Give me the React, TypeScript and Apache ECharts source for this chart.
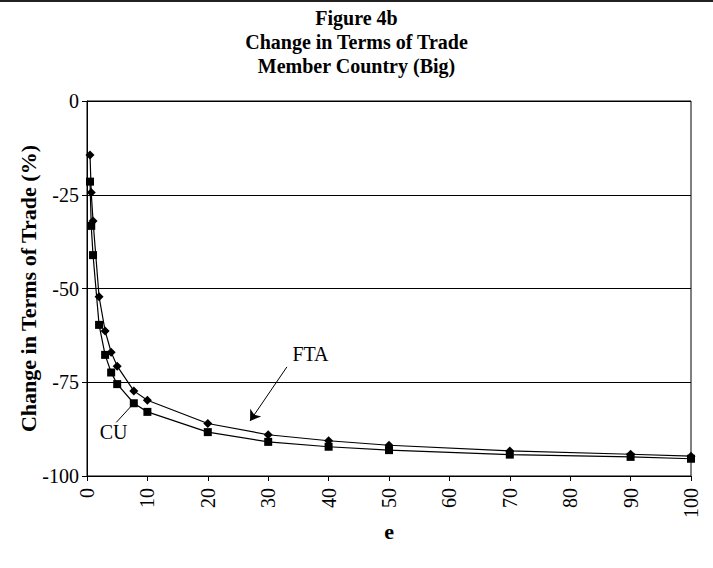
import React, { useEffect, useRef } from "react";
import * as echarts from "echarts";

const eValues = [0.5, 0.7, 1, 2, 3, 4, 5, 7.75, 10, 20, 30, 40, 50, 70, 90, 100];
const ftaValues = [-14.4, -24.4, -32, -52.2, -61.3, -67, -70.7, -77.3, -79.8, -86, -89, -90.6, -91.8, -93.3, -94.2, -94.7];
const cuValues = [-21.5, -33.3, -41.1, -59.7, -67.7, -72.4, -75.5, -80.6, -82.9, -88.3, -90.9, -92.2, -93.1, -94.3, -94.9, -95.4];
const titleLines = ["Figure 4b", "Change in Terms of Trade", "Member Country (Big)"];
const yTicks = { min: -100, max: 0, interval: 25 };
const xTicks = { min: 0, max: 100, interval: 10 };

const FONT = "'Liberation Serif', 'Times New Roman', serif";

export default function App() {
  const ref = useRef<HTMLDivElement>(null);
  useEffect(() => {
    if (!ref.current) return;
    const chart = echarts.init(ref.current, null, { renderer: "svg" });
    const fta = eValues.map((e, i) => [e, ftaValues[i]]);
    const cu = eValues.map((e, i) => [e, cuValues[i]]);
    chart.setOption({
      animation: false,
      backgroundColor: "#fff",
      title: {
        text: titleLines.join("\n"),
        left: "center",
        top: 1,
        textStyle: {
          fontFamily: FONT,
          fontWeight: "bold",
          fontSize: 20,
          lineHeight: 24,
          color: "#000",
        },
      },
      graphic: [
        { type: "rect", left: 0, top: 0, shape: { width: 713, height: 2 }, style: { fill: "#222" } },
      ],
      grid: {
        left: 87,
        right: 22,
        top: 101,
        bottom: 92,
        show: true,
        borderColor: "#000",
        borderWidth: 1,
        backgroundColor: "#fff",
      },
      xAxis: {
        type: "value",
        min: xTicks.min,
        max: xTicks.max,
        interval: xTicks.interval,
        name: "e",
        nameLocation: "middle",
        nameGap: 44,
        nameMoveOverlap: false,
        nameTextStyle: { fontFamily: FONT, fontWeight: "bold", fontSize: 22, color: "#000" },
        axisLine: { show: true, onZero: false, lineStyle: { color: "#000", width: 1 } },
        axisTick: { show: true, length: 5, lineStyle: { color: "#000" } },
        axisLabel: { rotate: 90, fontFamily: FONT, fontSize: 20, color: "#000", margin: 12 },
        splitLine: { show: false },
      },
      yAxis: {
        type: "value",
        min: yTicks.min,
        max: yTicks.max,
        interval: yTicks.interval,
        name: "Change in Terms of Trade (%)",
        nameLocation: "middle",
        nameGap: 48,
        nameMoveOverlap: false,
        nameTextStyle: { fontFamily: FONT, fontWeight: "bold", fontSize: 22, color: "#000" },
        axisLine: { show: true, lineStyle: { color: "#000", width: 1 } },
        axisTick: { show: true, length: 5, lineStyle: { color: "#000" } },
        axisLabel: { fontFamily: FONT, fontSize: 20, color: "#000", margin: 8 },
        splitLine: { show: true, lineStyle: { color: "#000", width: 1 } },
      },
      series: [
        {
          name: "FTA",
          type: "line",
          data: fta,
          symbol: "diamond",
          symbolSize: 9,
          showAllSymbol: true,
          lineStyle: { color: "#000", width: 1.2 },
          itemStyle: { color: "#000" },
          markLine: {
            silent: true,
            symbol: ["none", "arrow"],
            symbolSize: 10,
            lineStyle: { color: "#000", width: 1, type: "solid" },
            label: { show: false },
            data: [[{ coord: [33.1, -70.9] }, { coord: [27, -85.3] }]],
          },
          markPoint: {
            silent: true,
            symbol: "circle",
            symbolSize: 1,
            itemStyle: { color: "transparent" },
            label: { show: true, formatter: "FTA", fontFamily: FONT, fontSize: 20, color: "#000", position: "inside" },
            data: [{ coord: [37, -67.5] }],
          },
        },
        {
          name: "CU",
          type: "line",
          data: cu,
          symbol: "rect",
          symbolSize: 8,
          showAllSymbol: true,
          lineStyle: { color: "#000", width: 1.2 },
          itemStyle: { color: "#000" },
          markLine: {
            silent: true,
            symbol: ["none", "none"],
            lineStyle: { color: "#000", width: 1, type: "solid" },
            label: { show: false },
            data: [[{ coord: [4.85, -85.7] }, { coord: [7.75, -80.6] }]],
          },
          markPoint: {
            silent: true,
            symbol: "circle",
            symbolSize: 1,
            itemStyle: { color: "transparent" },
            label: { show: true, formatter: "CU", fontFamily: FONT, fontSize: 20, color: "#000", position: "inside" },
            data: [{ coord: [4.4, -88.2] }],
          },
        },
      ],
    });
    return () => chart.dispose();
  }, []);
  return <div ref={ref} style={{ width: 713, height: 568, position: "absolute", left: 0, top: 0 }} />;
}
